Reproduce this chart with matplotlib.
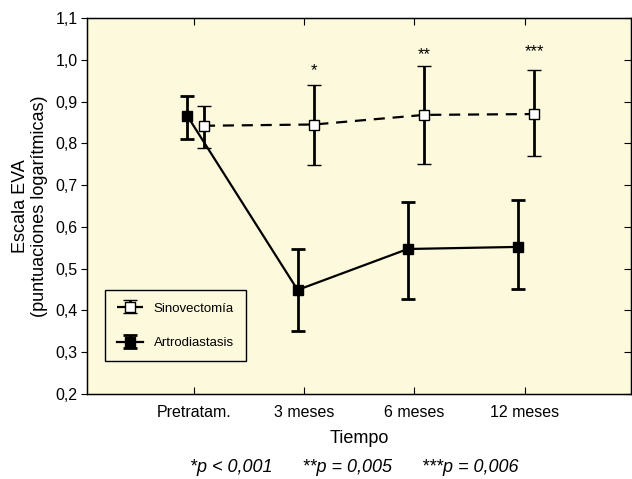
import numpy as np
import matplotlib.pyplot as plt

plt.rcParams['font.family'] = ['Liberation Sans', 'DejaVu Sans']

# Datos
tiempos = ['Pretratam.', '3 meses', '6 meses', '12 meses']

artro_media = [0.865, 0.449, 0.547, 0.552]
artro_sup = [0.913, 0.547, 0.660, 0.664]
artro_inf = [0.810, 0.351, 0.428, 0.451]

sino_media = [0.842, 0.845, 0.868, 0.870]
sino_sup = [0.889, 0.939, 0.984, 0.976]
sino_inf = [0.788, 0.749, 0.750, 0.769]

marcas = ['*', '**', '***']
marcas_y = [0.975, 1.013, 1.020]

x = np.arange(len(tiempos))

fig = plt.figure(figsize=(6.32, 4.79), dpi=100)
ax = fig.add_axes([0.138, 0.1775, 0.861, 0.785])
ax.set_facecolor('#fcf9dc')

a_err = [np.array(artro_media) - np.array(artro_inf), np.array(artro_sup) - np.array(artro_media)]
s_err = [np.array(sino_media) - np.array(sino_inf), np.array(sino_sup) - np.array(sino_media)]

s = ax.errorbar(x + 0.09, sino_media, yerr=s_err, fmt='s', ls=(0, (5, 3.5)), color='black',
                lw=1.6, elinewidth=2.0, capsize=4.8, capthick=2.0, ms=6.5,
                mfc='white', mec='black', mew=1.0, label='Sinovectomía')
a = ax.errorbar(x - 0.06, artro_media, yerr=a_err, fmt='s-', color='black',
                lw=1.6, elinewidth=2.0, capsize=4.8, capthick=2.0, ms=6.5,
                mfc='black', mec='black', label='Artrodiastasis')

for i, (m, my) in enumerate(zip(marcas, marcas_y)):
    ax.text(x[i + 1] + 0.09, my, m, ha='center', va='center', fontsize=12)

ax.set_xlim(-0.97, 3.97)
ax.set_ylim(0.2, 1.1)
ax.set_xticks(x)
ax.set_xticklabels(tiempos, fontsize=11.5)
yt = np.arange(0.2, 1.11, 0.1)
ax.set_yticks(yt)
ax.set_yticklabels([f'{v:.1f}'.replace('.', ',') for v in yt], fontsize=11.5)
ax.tick_params(axis='x', direction='in', top=True, length=5, pad=8)
ax.tick_params(axis='y', direction='out', length=4, pad=3)
for sp in ax.spines.values():
    sp.set_linewidth(1.0)

# marcas interiores en el lado derecho
ax2 = ax.twinx()
ax2.set_ylim(ax.get_ylim())
ax2.set_yticks(yt)
ax2.set_yticklabels([])
ax2.tick_params(axis='y', direction='in', length=5)

ax.set_xlabel('Tiempo', fontsize=13, labelpad=7)
ax.set_ylabel('Escala EVA\n(puntuaciones logarítmicas)', fontsize=13, labelpad=5)

leg = ax.legend(handles=[s, a], loc='lower left', bbox_to_anchor=(0.02, 0.07),
                fontsize=9.5, frameon=True, fancybox=False, edgecolor='black',
                facecolor='#fcf9dc', framealpha=1, handlelength=2.0,
                labelspacing=1.7, borderpad=0.9)
leg.get_frame().set_linewidth(1.0)

fig.text(0.56, 0.025, '*p < 0,001      **p = 0,005      ***p = 0,006',
         ha='center', va='center', fontsize=13, style='italic')

fig.savefig('out.png', dpi=100)
